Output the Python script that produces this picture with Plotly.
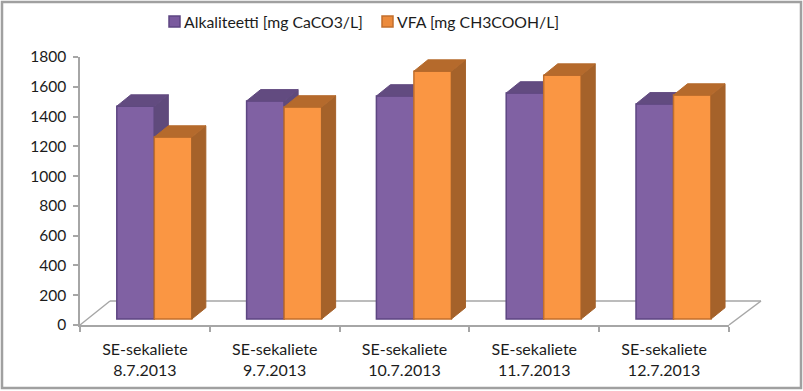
import plotly.graph_objects as go

categories = ["SE-sekaliete<br>8.7.2013", "SE-sekaliete<br>9.7.2013", "SE-sekaliete<br>10.7.2013",
              "SE-sekaliete<br>11.7.2013", "SE-sekaliete<br>12.7.2013"]
series_names = ["Alkaliteetti [mg CaCO3/L]", "VFA [mg CH3COOH/L]"]
alkaliteetti = [1430, 1465, 1498, 1518, 1445]
vfa = [1222, 1424, 1665, 1638, 1504]
y_ticks = list(range(0, 1801, 200))

BASE = 40
DX, DY = 0.108, 76
WIDTH = 0.289
FONT = "Lato, 'Open Sans', sans-serif"
TEXT = "#1c1c1c"
W, H = 803, 391
L, R, T, B = 80, 74, 57, 66


def polys(values, offset):
    """Side and top faces of the pseudo-3D bars, from the values."""
    sx, sy, tx, ty = [], [], [], []
    for i, v in enumerate(values):
        x0 = i + offset - WIDTH / 2
        x1 = i + offset + WIDTH / 2
        top = BASE + v
        sx += [x1, x1 + DX, x1 + DX, x1, x1, None]
        sy += [BASE, BASE + DY, top + DY, top, BASE, None]
        tx += [x0, x0 + DX, x1 + DX, x1, x0, None]
        ty += [top, top + DY, top + DY, top, top, None]
    return sx, sy, tx, ty


def add_series(fig, name, values, offset, front, edge, side, top, xa, ya):
    sx, sy, tx, ty = polys(values, offset)
    fig.add_trace(go.Scatter(x=sx, y=sy, mode="lines", fill="toself", fillcolor=side,
                             line=dict(color=side, width=1), showlegend=False,
                             hoverinfo="skip", xaxis=xa, yaxis=ya))
    fig.add_trace(go.Scatter(x=tx, y=ty, mode="lines", fill="toself", fillcolor=top,
                             line=dict(color=top, width=1), showlegend=False,
                             hoverinfo="skip", xaxis=xa, yaxis=ya))
    fig.add_trace(go.Bar(x=[i + offset for i in range(len(values))], y=values, base=BASE,
                         width=WIDTH, name=name, showlegend=False,
                         marker=dict(color=front, line=dict(color=edge, width=1.5)),
                         xaxis=xa, yaxis=ya))


fig = go.Figure()
add_series(fig, series_names[0], alkaliteetti, -0.072,
           "#8061a3", "#5d4682", "#5f4a7c", "#624b80", "x", "y")
add_series(fig, series_names[1], vfa, 0.217,
           "#fa9643", "#c26f2c", "#a5622a", "#b56a2c", "x2", "y2")


def px(x):
    return (x - L) / (W - L - R)


def py(y):
    return (H - B - y) / (H - T - B)


idx = list(range(len(categories)))
fig.update_layout(
    width=W, height=H, margin=dict(l=L, r=R, t=T, b=B, autoexpand=False),
    paper_bgcolor="white", plot_bgcolor="white",
    font=dict(family=FONT, color=TEXT, size=15),
    showlegend=False,
    xaxis=dict(range=[-0.5, 4.5], tickmode="array", tickvals=idx, ticktext=categories,
               showline=True, linecolor="#a6a6a6", linewidth=1.5, showgrid=False, zeroline=False,
               ticks="", ticklabelstandoff=9, tickfont=dict(family=FONT, size=16, color=TEXT),
               minor=dict(tickmode="array", tickvals=[i - 0.5 for i in range(6)], ticks="outside",
                          ticklen=5, tickcolor="#a6a6a6", tickwidth=1.5, showgrid=False)),
    yaxis=dict(range=[0, 1800], tickmode="array", tickvals=y_ticks, showline=True,
               linecolor="#a6a6a6", linewidth=1.5, ticks="outside", ticklen=5,
               ticklabelstandoff=4,
               tickcolor="#a6a6a6", tickwidth=1.5, showgrid=False, zeroline=False,
               tickfont=dict(family=FONT, size=15.5, color=TEXT)),
    xaxis2=dict(range=[-0.5, 4.5], overlaying="x", visible=False),
    yaxis2=dict(range=[0, 1800], overlaying="y", visible=False),
)

floor = [((80, 325), (110, 301)), ((110, 301), (761, 301)), ((729, 325), (761, 301))]
for (x0, y0), (x1, y1) in floor:
    fig.add_shape(type="line", xref="paper", yref="paper", x0=px(x0), x1=px(x1), y0=py(y0), y1=py(y1),
                  line=dict(color="#a6a6a6", width=1.5), layer="below")
fig.add_shape(type="rect", xref="paper", yref="paper", x0=px(2), x1=px(801), y0=py(2), y1=py(388),
              line=dict(color="#a0a0a0", width=2.5), layer="below")

# Legend: swatch and label placed where the reference has them
legend_items = [(series_names[0], 169, 184, "#7a5a9e", "#5d4682"),
                (series_names[1], 382, 397, "#ec8b3c", "#c26f2c")]
for name, sw_x, tx_x, fill, edge in legend_items:
    fig.add_shape(type="rect", xref="paper", yref="paper", x0=px(sw_x), x1=px(sw_x + 11),
                  y0=py(16), y1=py(27), fillcolor=fill, line=dict(color=edge, width=1.5))
    fig.add_annotation(text=name, xref="paper", yref="paper", x=px(tx_x), y=py(21),
                       xanchor="left", yanchor="middle", showarrow=False, borderpad=0, borderwidth=0,
                       font=dict(family=FONT, size=15.8, color=TEXT))

fig.write_html("out.html", config={"displayModeBar": False},
               post_script="document.body.style.margin='0';")
